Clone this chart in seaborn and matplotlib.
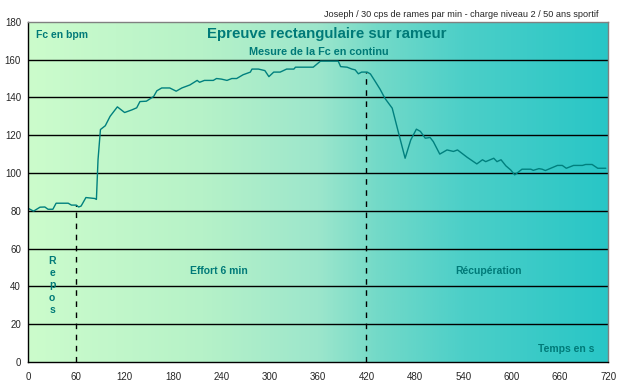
import numpy as np
import pandas as pd
import matplotlib
matplotlib.use('Agg')
import matplotlib.pyplot as plt
import seaborn as sns
from matplotlib.colors import LinearSegmentedColormap

# heart rate readings (time in s, Fc in bpm)
temps = [0, 7, 15, 21, 25, 31, 35, 50, 54, 60, 63, 66, 72, 83, 85, 87, 90, 96, 102, 111,
         120, 129, 135, 139, 147, 156, 160, 166, 176, 184, 191, 201, 210, 213, 219, 230,
         234, 240, 247, 253, 259, 267, 276, 278, 286, 294, 299, 305, 313, 321, 330, 332,
         354, 363, 385, 388, 396, 402, 406, 410, 414, 421, 425, 431, 437, 443, 452, 460,
         468, 475, 482, 487, 493, 499, 503, 511, 520, 528, 533, 545, 557, 564, 568, 578,
         582, 587, 593, 599, 604, 613, 624, 627, 634, 638, 642, 657, 663, 668, 677, 688,
         692, 700, 707, 717]
fc = [81.4, 79.8, 81.9, 82, 80.8, 80.8, 84, 84, 83, 83, 82, 82.5, 87, 86.5, 86, 107, 123,
      125, 130, 135, 132, 133.4, 134.5, 137.8, 138, 140.5, 143.5, 145, 145, 143.3, 145,
      146.6, 149, 148, 149, 149, 150, 149.7, 149, 150, 150, 152, 153.4, 155, 155, 154.2,
      151, 153.4, 153.4, 155, 155, 156, 156, 159.2, 159.2, 156.3, 156, 155, 154.6, 152.5,
      153.4, 153.4, 152.4, 148.4, 144.3, 139.5, 134.3, 121, 107.8, 117.5, 123.2, 122,
      118.4, 118.8, 116.6, 110, 112.2, 111.4, 112.2, 108.3, 104.8, 107, 106, 107.8, 106,
      107, 103.8, 101.6, 99, 102, 102, 101.4, 102.3, 102, 101.3, 104, 104, 102.5, 104,
      104, 104.5, 104.5, 102.5, 102.5]

phases = [60, 420]
x_ticks = list(range(0, 721, 60))
y_ticks = list(range(0, 181, 20))

df = pd.DataFrame({'temps': temps, 'fc': fc})

teal = '#007a78'
bold = ['Liberation Sans', 'DejaVu Sans']

sns.set_style('white')
plt.rcParams['font.family'] = ['Liberation Sans', 'DejaVu Sans']

fig = plt.figure(figsize=(6.2, 3.9), dpi=100)
ax = fig.add_axes([0.045, 0.072, 0.936, 0.872])

# background gradient
cmap = LinearSegmentedColormap.from_list('bg', [
    (0.0, '#ccfccc'), (0.3, '#b6f2c8'), (0.5, '#9ce6cc'), (0.6, '#74dac8'),
    (0.75, '#4ccfc8'), (1.0, '#28c6c6')])
grad = np.linspace(0, 1, 256).reshape(1, -1)
ax.imshow(grad, extent=[0, 720, 0, 180], aspect='auto', cmap=cmap, zorder=0)

for y in y_ticks[1:-1]:
    ax.axhline(y, color='black', lw=1.0, zorder=1)

sns.lineplot(data=df, x='temps', y='fc', color='#00807e', lw=1.0, ax=ax, zorder=3)

for p in phases:
    ax.vlines(p, 0, np.interp(p, temps, fc), colors='black', linestyles=(0, (4, 4)), lw=1.0, zorder=2)

ax.set_xlim(0, 720)
ax.set_ylim(0, 180)
ax.set_xticks(x_ticks)
ax.set_yticks(y_ticks)
ax.tick_params(axis='both', labelsize=7, length=3, width=1, direction='out', color='black', pad=2)
ax.tick_params(axis='x', pad=4)
ax.set_xlabel('')
ax.set_ylabel('')
for s in ['left', 'bottom']:
    ax.spines[s].set_color('black')
for s in ['top', 'right']:
    ax.spines[s].set_color('#808080')
for s in ax.spines.values():
    s.set_linewidth(1.0)
    s.set_zorder(4)

# texts
ax.text(10, 173, 'Fc en bpm', color=teal, fontsize=7.5, fontweight='bold', family=bold, va='center')
ax.text(371, 173.5, 'Epreuve rectangulaire sur rameur', color=teal, fontsize=10.8, fontweight='bold',
        family=bold, ha='center', va='center')
ax.text(361, 164, 'Mesure de la Fc en continu', color=teal, fontsize=7.8, fontweight='bold',
        family=bold, ha='center', va='center')
fig.text(0.965, 0.962, 'Joseph / 30 cps de rames par min - charge niveau 2 / 50 ans sportif',
         fontsize=6.6, ha='right', va='center')
ax.text(30, 40.5, 'R\ne\np\no\ns', color=teal, fontsize=7.5, fontweight='bold', family=bold,
        ha='center', va='center', linespacing=1.3)
ax.text(237, 48, 'Effort 6 min', color=teal, fontsize=7.5, fontweight='bold', family=bold,
        ha='center', va='center')
ax.text(571, 48, 'Récupération', color=teal, fontsize=7.5, fontweight='bold', family=bold,
        ha='center', va='center')
ax.text(668, 7, 'Temps en s', color=teal, fontsize=7.5, fontweight='bold', family=bold,
        ha='center', va='center')

fig.savefig('out.png', dpi=100)
